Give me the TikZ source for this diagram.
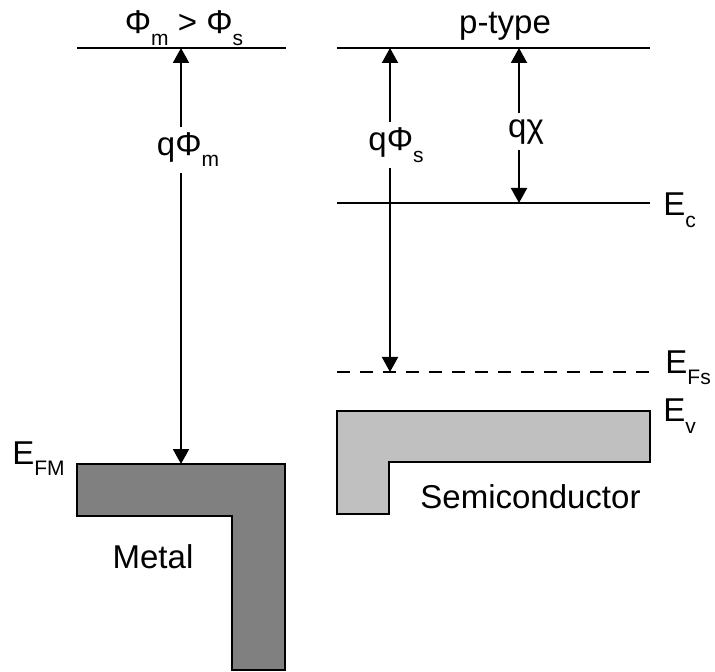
\documentclass[tikz,border=0pt]{standalone}
\usepackage{fontspec}
\setmainfont{Liberation Sans}
\usetikzlibrary{positioning,arrows.meta}
\definecolor{MetalGray}{RGB}{128,128,128}
\definecolor{SemiGray}{RGB}{192,192,192}
\newcommand\lo[1]{\raisebox{-0.34em}{\fontsize{10.5}{12}\selectfont #1}}

\begin{document}
\begin{tikzpicture}[
    x=0.5pt,y=-0.5pt,
    txt/.style={inner sep=0pt,font=\fontsize{16.5}{20}\selectfont},
    lbl/.style={fill=white,inner sep=3pt,font=\fontsize{16.5}{20}\selectfont},
    level/.style={line width=1pt},
    fermi/.style={line width=1pt,dash pattern=on 6.5pt off 5pt},
    arrow/.style={{Triangle[length=7.5pt,width=8pt]}-{Triangle[length=7.5pt,width=8pt]},line width=1pt},
    band/.style={draw=black,line width=1pt}
]
\useasboundingbox (0,0) rectangle (715,672);

% Metal side
\coordinate (vac-m-l) at (77,48);
\coordinate (vac-m-r) at (286,48);
\draw[level] (vac-m-l) -- (vac-m-r);
\node[txt,anchor=base] (cmp) at (184,34) {Φ\lo{m} > Φ\lo{s}};

\coordinate (m-top) at (181,48);
\coordinate (m-fermi) at (181,464);
\draw[band,fill=MetalGray] (77,464) -| (285,670) -| (232,516) -- (77,516) -- cycle;
\draw[arrow] (m-top) -- node[lbl,pos=.245,xshift=3.5pt] (qphim) {qΦ\lo{m}} (m-fermi);

\node[txt,anchor=base west] (efm) at (12,464) {E\lo{FM}};
\node[txt,anchor=base] (metal) at (153,568) {Metal};

% Semiconductor side
\coordinate (vac-s-l) at (337,48);
\coordinate (vac-s-r) at (650,48);
\draw[level] (vac-s-l) -- (vac-s-r);
\node[txt,anchor=base] (ptype) at (505,34) {p-type};

\coordinate (ec-l) at (337,203);
\coordinate (ec-r) at (650,203);
\draw[level] (ec-l) -- (ec-r);
\node[txt,anchor=base west] (ec) at (663,216) {E\lo{c}};

\coordinate (efs-l) at (337,372);
\coordinate (efs-r) at (650,372);
\draw[fermi] (efs-l) -- (efs-r);
\node[txt,anchor=base west] (efs) at (665,373) {E\lo{Fs}};

\draw[band,fill=SemiGray] (337,411) -| (650,462) -| (389,514) -- (337,514) -- cycle;
\node[txt,anchor=base west] (ev) at (663,422) {E\lo{v}};
\node[txt,anchor=base west] (semi) at (420,508) {Semiconductor};

% work function and affinity
\coordinate (s-top) at (390,48);
\coordinate (s-fermi) at (390,372);
\draw[arrow] (s-top) -- node[lbl,pos=.30,xshift=3pt] (qphis) {qΦ\lo{s}} (s-fermi);

\coordinate (chi-top) at (519,48);
\coordinate (chi-ec) at (519,203);
\draw[arrow] (chi-top) -- node[lbl,pos=.54,xshift=3.5pt] (qchi) {qχ} (chi-ec);

\end{tikzpicture}
\end{document}
